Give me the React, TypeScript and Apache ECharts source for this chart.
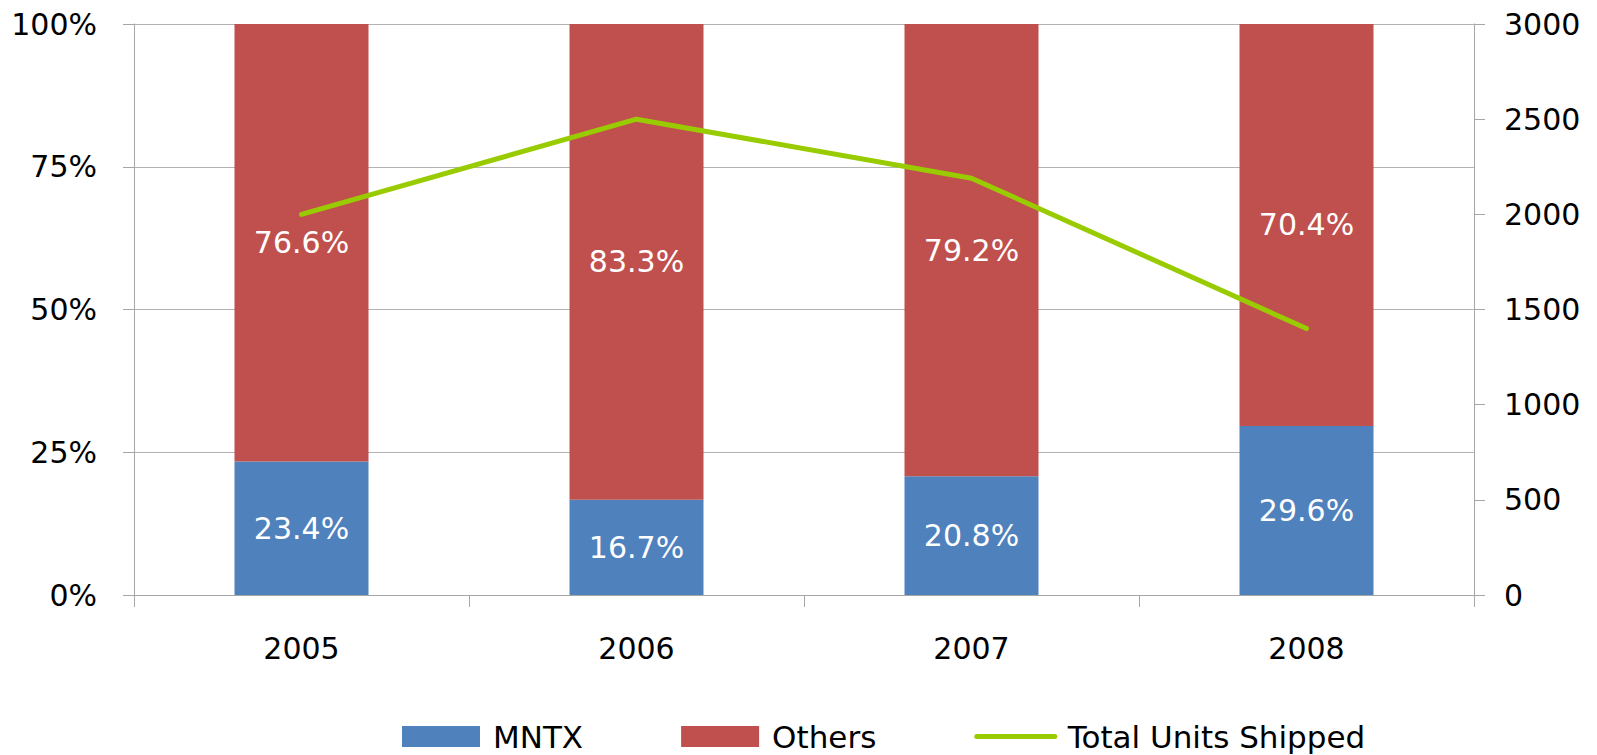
import React, { useEffect, useRef } from "react";
import * as echarts from "echarts";

const years = ["2005", "2006", "2007", "2008"];
const mntxShare = [23.4, 16.7, 20.8, 29.6];
const othersShare = [76.6, 83.3, 79.2, 70.4];
const totalUnits = [2000, 2500, 2190, 1400];

const FONT = "DejaVu Sans";

export default function App() {
  const ref = useRef<HTMLDivElement>(null);
  useEffect(() => {
    document.body.style.margin = "0";
    const chart = echarts.init(ref.current!, null, { renderer: "svg" });
    const labelStyle = {
      show: true,
      position: "inside" as const,
      color: "#ffffff",
      fontFamily: FONT,
      fontSize: 30,
      formatter: (p: any) => p.value.toFixed(1) + "%",
    };
    chart.setOption({
      animation: false,
      backgroundColor: "#ffffff",
      grid: { left: 134, right: 123, top: 24, bottom: 160, containLabel: false },
      legend: {
        left: 402,
        top: 721,
        padding: 0,
        itemWidth: 78,
        itemHeight: 21,
        itemGap: 98,
        textStyle: {
          fontFamily: FONT,
          fontSize: 31,
          lineHeight: 31,
          color: "#000",
          padding: [0, 0, 0, 8],
        },
        data: [
          { name: "MNTX", icon: "rect" },
          { name: "Others", icon: "rect" },
          {
            name: "Total Units Shipped",
            itemStyle: { color: "rgba(0,0,0,0)", borderWidth: 0, opacity: 0 },
            lineStyle: { color: "#99CC00", width: 5, cap: "round" },
          },
        ],
      },
      xAxis: {
        type: "category",
        data: years,
        axisLine: { lineStyle: { color: "#a6a6a6", width: 1 } },
        axisTick: { show: true, length: 12, lineStyle: { color: "#a6a6a6" } },
        axisLabel: { color: "#000", fontFamily: FONT, fontSize: 30, margin: 38 },
      },
      yAxis: [
        {
          type: "value",
          min: 0,
          max: 100,
          interval: 25,
          axisLine: { show: true, lineStyle: { color: "#a6a6a6" } },
          axisTick: { show: true, length: 11, lineStyle: { color: "#a6a6a6" } },
          splitLine: { show: true, lineStyle: { color: "#b3b3b3", width: 1 } },
          axisLabel: { color: "#000", fontFamily: FONT, fontSize: 30, margin: 37, formatter: "{value}%" },
        },
        {
          type: "value",
          min: 0,
          max: 3000,
          interval: 500,
          position: "right",
          axisLine: { show: true, lineStyle: { color: "#a6a6a6" } },
          axisTick: { show: true, length: 11, lineStyle: { color: "#a6a6a6" } },
          splitLine: { show: false },
          axisLabel: {
            color: "#000",
            fontFamily: FONT,
            fontSize: 30,
            margin: 30,
            formatter: (v: number) => String(v),
          },
        },
      ],
      series: [
        {
          name: "MNTX",
          type: "bar",
          stack: "share",
          data: mntxShare,
          barWidth: "40%",
          itemStyle: { color: "#4F81BD" },
          label: labelStyle,
        },
        {
          name: "Others",
          type: "bar",
          stack: "share",
          data: othersShare,
          barWidth: "40%",
          itemStyle: { color: "#C0504D" },
          label: labelStyle,
        },
        {
          name: "Total Units Shipped",
          type: "line",
          yAxisIndex: 1,
          data: totalUnits,
          symbol: "none",
          showSymbol: false,
          lineStyle: { color: "#99CC00", width: 5, cap: "round", join: "round" },
          itemStyle: { color: "#99CC00" },
          z: 5,
        },
      ],
    });
    return () => chart.dispose();
  }, []);
  return <div ref={ref} style={{ width: 1597, height: 755 }} />;
}
